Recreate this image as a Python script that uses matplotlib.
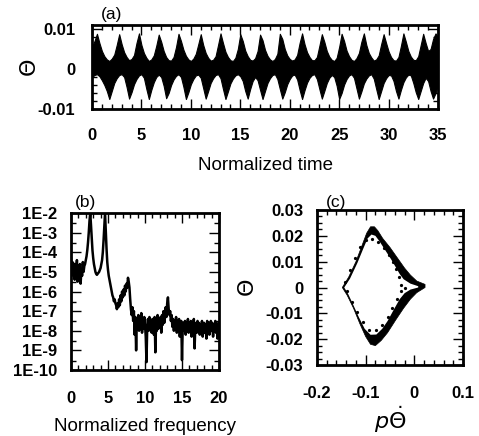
import numpy as np
import matplotlib
matplotlib.use("Agg")
import matplotlib.pyplot as plt
from matplotlib.ticker import FixedLocator, FixedFormatter, MultipleLocator

plt.rcParams['font.family'] = ['Liberation Sans', 'DejaVu Sans']
plt.rcParams['mathtext.fontset'] = 'dejavusans'

# ---------------- panel (a): time series envelope (units of 1e-3) -------------
t_step = 0.25
theta_upper = [5.5, 7.0, 8.8, 6.5, 4.5, 3.2, 2.4, 2.0, 2.6, 3.6,
               6.0, 8.7, 6.2, 4.2, 3.0, 2.2, 2.5, 3.5, 6.5, 8.9,
               6.0, 4.0, 2.8, 2.0, 2.4, 3.4, 5.8, 8.6, 6.8, 4.5,
               3.0, 2.2, 2.1, 3.0, 5.5, 8.8, 7.0, 4.8, 3.3, 2.4,
               2.0, 2.6, 3.8, 6.2, 8.7, 6.0, 4.0, 2.8, 2.1, 2.3,
               3.2, 6.0, 8.9, 6.5, 4.3, 3.0, 2.2, 2.0, 2.8, 5.0,
               8.7, 7.0, 4.6, 3.2, 2.3, 2.1, 2.7, 4.5, 8.6, 7.2,
               4.8, 3.3, 2.4, 2.0, 2.5, 3.8, 8.8, 7.5, 5.0, 3.4,
               2.5, 2.1, 2.4, 3.5, 6.5, 8.9, 6.2, 4.2, 3.0, 2.2,
               2.2, 3.0, 5.8, 8.7, 6.8, 4.5, 3.1, 2.3, 2.0, 2.8,
               5.5, 8.8, 7.0, 4.6, 3.2, 2.3, 2.0, 2.7, 4.0, 6.8,
               8.9, 6.0, 4.0, 2.9, 2.1, 2.4, 3.4, 6.2, 8.7, 6.5,
               4.4, 3.0, 2.2, 2.1, 3.0, 5.8, 8.9, 6.8, 4.5, 3.1,
               2.3, 2.2, 3.2, 6.0, 8.8, 6.5, 4.5, 5.0, 7.5, 8.9,
               8.0]
theta_lower = [2.0, 1.5, 1.3, 1.8, 2.8, 4.0, 5.5, 7.5, 5.5, 3.5,
               2.3, 1.5, 1.3, 2.0, 4.5, 7.4, 5.8, 3.8, 2.5, 1.6,
               1.3, 2.2, 5.0, 7.5, 5.2, 3.3, 2.0, 1.4, 2.0, 4.2,
               7.3, 6.0, 4.0, 2.6, 1.7, 1.3, 2.0, 4.5, 7.5, 5.8,
               3.8, 2.5, 1.6, 1.4, 2.2, 4.8, 7.4, 5.5, 3.5, 2.3,
               1.5, 1.3, 2.3, 5.0, 7.5, 5.6, 3.6, 2.4, 1.6, 1.3,
               1.8, 3.0, 5.5, 7.4, 5.0, 3.0, 2.0, 2.8, 5.2, 7.5,
               5.5, 3.5, 2.3, 1.5, 1.3, 2.5, 5.0, 7.4, 5.8, 3.8,
               2.5, 1.6, 1.4, 2.6, 5.2, 7.5, 5.3, 3.4, 2.2, 1.5,
               1.3, 2.5, 5.0, 7.4, 5.5, 3.5, 2.2, 1.5, 2.0, 4.2,
               7.5, 6.0, 3.9, 2.5, 1.6, 1.3, 2.2, 4.8, 7.4, 5.6,
               3.6, 2.4, 1.6, 1.3, 2.4, 5.0, 7.5, 5.5, 3.5, 2.3,
               1.5, 1.6, 3.0, 5.5, 7.4, 5.2, 3.3, 2.1, 1.4, 1.6,
               3.5, 5.8, 7.5, 5.5, 3.5, 2.2, 3.0, 5.5, 7.4, 6.0,
               4.0]
a_xticks = [0, 5, 10, 15, 20, 25, 30, 35]
a_yticks = [0.01, 0, -0.01]
a_yticklabels = ['0.01', '0', '-0.01']

# ---------------- panel (b): spectrum, log10 values at 0.1 steps --------------
f_step = 0.1
log_power = [-4.3, -4.9, -4.5, -5.2, -4.6, -5.4, -4.7, -5.0, -4.4, -5.5,
             -4.8, -5.1, -4.6, -5.6, -4.9, -5.2, -4.5, -5.0, -4.7, -4.6,
             -4.4, -4.2, -3.9, -3.5, -3.0, -2.4, -2.0, -2.6, -3.3, -3.9,
             -4.3, -4.6, -4.8, -5.0, -5.1, -5.15, -5.1, -5.05, -5.0, -4.9,
             -4.8, -4.6, -4.4, -4.0, -3.4, -2.7, -2.0, -2.9, -3.8, -4.5,
             -4.9, -5.2, -5.4, -5.6, -5.8, -6.0, -6.2, -6.3, -6.5, -6.4,
             -6.6, -6.7, -6.9, -6.6, -6.8, -6.4, -6.7, -6.2, -6.5, -6.0,
             -6.3, -5.9, -6.2, -5.7, -6.0, -5.6, -5.8, -5.3, -5.5, -5.8,
             -6.4, -6.9, -7.2, -6.8, -7.5, -7.0, -8.2, -7.3, -9.0, -7.4,
             -7.6, -7.2, -8.0, -7.4, -7.8, -7.1, -8.1, -7.5, -7.9, -7.3,
             -7.7, -8.3, -9.6, -7.8, -7.4, -8.0, -7.3, -7.9, -7.5, -8.1,
             -7.4, -7.8, -8.2, -7.3, -9.1, -7.6, -8.0, -7.2, -7.9, -7.5,
             -7.8, -7.3, -8.1, -7.2, -7.7, -7.0, -7.6, -7.1, -6.8, -7.3,
             -6.6, -6.3, -6.9, -7.2, -7.0, -7.5, -7.2, -7.8, -7.4, -8.0,
             -7.5, -7.9, -7.3, -8.1, -7.6, -7.8, -7.4, -8.3, -7.7, -7.5,
             -9.5, -7.8, -7.6, -8.0, -7.5, -8.2, -7.7, -7.9, -7.4, -8.1,
             -7.6, -8.0, -7.5, -8.3, -7.7, -7.9, -7.4, -8.9, -7.8, -7.6,
             -8.1, -7.5, -7.9, -7.6, -8.2, -7.7, -8.0, -7.5, -8.3, -7.8,
             -7.6, -8.1, -7.7, -8.4, -7.5, -7.9, -7.6, -8.2, -7.8, -7.5,
             -8.0, -7.6, -8.3, -7.7, -7.9, -7.5, -8.1, -7.8, -8.4, -7.6,
             -7.9]
b_xticks = [0, 5, 10, 15, 20]
b_yexp = [-2, -3, -4, -5, -6, -7, -8, -9, -10]
b_yticklabels = ['1E-2', '1E-3', '1E-4', '1E-5', '1E-6', '1E-7', '1E-8', '1E-9', '1E-10']

# ---------------- panel (c): phase portrait ---------------------------------
outer_x = [-0.148, -0.135, -0.120, -0.108, -0.098, -0.090, -0.082, -0.075, -0.065, -0.050,
           -0.035, -0.020, -0.008, 0.005, 0.022, 0.022, 0.005, -0.008, -0.022, -0.038,
           -0.055, -0.068, -0.080, -0.090, -0.100, -0.112, -0.125, -0.138, -0.148]
outer_y = [0.0, 0.004, 0.010, 0.016, 0.021, 0.0235, 0.0235, 0.022, 0.019, 0.0155,
           0.0115, 0.0075, 0.0048, 0.0025, 0.0012, 0.0, -0.002, -0.0045, -0.008, -0.0125,
           -0.0175, -0.0205, -0.0225, -0.022, -0.019, -0.014, -0.008, -0.003, 0.0]
inner_x = [-0.144, -0.132, -0.117, -0.105, -0.096, -0.088, -0.080, -0.072, -0.060, -0.048,
           -0.038, -0.030, -0.022, -0.008, 0.008, 0.008, -0.008, -0.020, -0.030, -0.042,
           -0.055, -0.066, -0.078, -0.090, -0.102, -0.114, -0.126, -0.136, -0.144]
inner_y = [0.0, 0.0035, 0.0095, 0.015, 0.019, 0.0205, 0.0200, 0.018, 0.0145, 0.011,
           0.0078, 0.0052, 0.0032, 0.0015, 0.0005, 0.0, -0.0008, -0.0022, -0.0045, -0.0085,
           -0.013, -0.016, -0.0182, -0.0183, -0.0160, -0.0115, -0.0065, -0.0025, 0.0]
dots_x = [-0.142, -0.132, -0.122, -0.112, -0.100, -0.087, -0.074, -0.062, -0.052, -0.043,
          -0.037, -0.032, -0.028, -0.020, -0.028, -0.036, -0.045, -0.055, -0.066, -0.079,
          -0.093, -0.106, -0.118, -0.129, -0.139]
dots_y = [0.002, 0.0068, 0.0115, 0.0155, 0.0182, 0.0188, 0.0175, 0.0152, 0.0127, 0.0098,
          0.0070, 0.0040, 0.0010, -0.0002, -0.0015, -0.0045, -0.0080, -0.0115, -0.0145, -0.0166,
          -0.0165, -0.0135, -0.0095, -0.0055, -0.0015]
c_xticks = [-0.2, -0.1, 0, 0.1]
c_xticklabels = ['-0.2', '-0.1', '0', '0.1']
c_yticks = [0.03, 0.02, 0.01, 0, -0.01, -0.02, -0.03]
c_yticklabels = ['0.03', '0.02', '0.01', '0', '-0.01', '-0.02', '-0.03']

# ---------------------------------------------------------------------------
W, H = 479, 436
fig = plt.figure(figsize=(W / 100, H / 100), dpi=100)

def box(l, t, r, b):
    return [l / W, 1 - b / H, (r - l) / W, (b - t) / H]

TICK_FS = 12

def style(ax, xpad=14, ypad=11):
    for s in ax.spines.values():
        s.set_linewidth(2.0)
    ax.tick_params(which='both', direction='in', top=True, right=True, width=1.0)
    ax.tick_params(which='major', length=7)
    ax.tick_params(which='minor', length=3.5)
    ax.tick_params(axis='x', which='major', pad=xpad)
    ax.tick_params(axis='y', which='major', pad=ypad)
    for lab in ax.get_xticklabels() + ax.get_yticklabels():
        lab.set_fontsize(TICK_FS)
        lab.set_fontweight('bold')

# (a)
axa = fig.add_axes(box(92, 25, 438, 109))
t = np.arange(len(theta_upper)) * t_step
axa.fill_between(t, np.array(theta_upper) * 1e-3, -np.array(theta_lower) * 1e-3,
                 color='black', linewidth=0.8)
axa.set_xlim(0, 35)
axa.set_ylim(-0.0100, 0.0110)
axa.set_xticks(a_xticks)
axa.set_xticklabels([str(v) for v in a_xticks])
axa.set_yticks(a_yticks)
axa.set_yticklabels(a_yticklabels)
axa.xaxis.set_minor_locator(MultipleLocator(1))
axa.yaxis.set_minor_locator(MultipleLocator(0.002))
style(axa, xpad=14, ypad=12)
axa.set_xlabel('Normalized time', fontsize=13.5, labelpad=10)
axa.set_ylabel(r'$\mathit{\Theta}$', fontsize=16, rotation=90, va='center', ha='center')
axa.yaxis.set_label_coords((30 - 92) / 346, 0.49)
fig.text(112 / W, 1 - 15 / H, '(a)', fontsize=12.5, ha='center', va='center')

# (b)
axb = fig.add_axes(box(71, 213, 219, 370))
f = np.arange(len(log_power)) * f_step
axb.semilogy(f, 10.0 ** np.array(log_power), color='black', linewidth=1.8)
axb.set_xlim(0, 20)
axb.set_ylim(1e-10, 1e-2)
axb.set_xticks(b_xticks)
axb.set_xticklabels([str(v) for v in b_xticks])
axb.yaxis.set_major_locator(FixedLocator([10.0 ** e for e in b_yexp]))
axb.yaxis.set_major_formatter(FixedFormatter(b_yticklabels))
axb.yaxis.set_minor_locator(FixedLocator([3 * 10.0 ** e for e in range(-10, -2)]))
axb.yaxis.set_minor_formatter(FixedFormatter([]))
axb.xaxis.set_minor_locator(MultipleLocator(1))
style(axb, xpad=15, ypad=10)
axb.set_xlabel('Normalized frequency', fontsize=13.5, labelpad=9)
fig.text(86 / W, 1 - 203 / H, '(b)', fontsize=12.5, ha='center', va='center')

# (c)
axc = fig.add_axes(box(317, 210, 463, 365))
axc.fill(outer_x, outer_y, color='black', linewidth=0.5)
axc.fill(inner_x, inner_y, color='white', linewidth=0)
axc.plot(dots_x, dots_y, linestyle='none', marker='o', markersize=1.3, color='black')
axc.set_xlim(-0.2, 0.1)
axc.set_ylim(-0.03, 0.03)
axc.set_xticks(c_xticks)
axc.set_xticklabels(c_xticklabels)
axc.set_yticks(c_yticks)
axc.set_yticklabels(c_yticklabels)
axc.xaxis.set_minor_locator(MultipleLocator(0.02))
axc.yaxis.set_minor_locator(MultipleLocator(0.0025))
style(axc, xpad=15, ypad=10)
axc.set_xlabel(r'$p\dot{\mathit{\Theta}}$', fontsize=16, labelpad=2)
axc.set_ylabel(r'$\mathit{\Theta}$', fontsize=16, rotation=90, va='center', ha='center')
axc.yaxis.set_label_coords((249 - 317) / 146, 0.5)
fig.text(336 / W, 1 - 202 / H, '(c)', fontsize=12.5, ha='center', va='center')

fig.savefig('out.png', dpi=100)
